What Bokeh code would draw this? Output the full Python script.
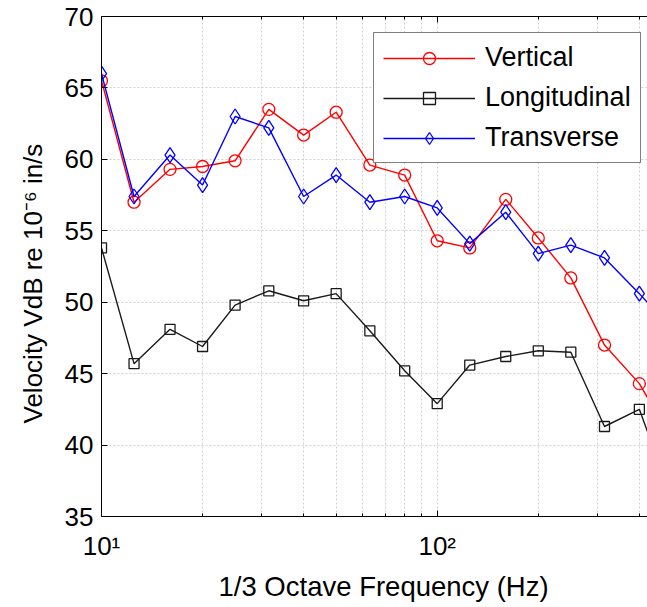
from bokeh.plotting import figure
from bokeh.models import (FixedTicker, CustomJSTickFormatter, LogAxis, Legend,
                          LegendItem, Range1d, Title)
from bokeh.embed import file_html
from bokeh.resources import INLINE

# 1/3 octave band centre frequencies (Hz)
freqs = [10, 12.5, 16, 20, 25, 31.5, 40, 50, 63, 80, 100, 125, 160, 200, 250, 315, 400, 500]
# Velocity levels, VdB re 1e-6 in/s
vertical = [65.5, 57.0, 59.3, 59.5, 59.9, 63.5, 61.7, 63.3, 59.6, 58.9, 54.3, 53.8,
            57.2, 54.5, 51.7, 47.0, 44.3, 40.4]
longitudinal = [53.8, 45.7, 48.1, 46.9, 49.8, 50.8, 50.1, 50.6, 48.0, 45.2, 42.9, 45.6,
                46.2, 46.6, 46.5, 41.3, 42.5, 36.3]
transverse = [66.0, 57.4, 60.3, 58.2, 63.0, 62.2, 57.4, 58.9, 57.0, 57.4, 56.6, 54.1,
              56.3, 53.4, 54.0, 53.1, 50.6, 48.1]

series_names = ["Vertical", "Longitudinal", "Transverse"]
x_major = [10, 100, 1000]
x_minor = [20, 30, 40, 50, 60, 70, 80, 90, 200, 300, 400, 500, 600, 700, 800, 900]
y_ticks = [35, 40, 45, 50, 55, 60, 65, 70]
x_title = "1/3 Octave Frequency (Hz)"
y_title = "Velocity VdB re 10\u207b\u2076 in/s"

FONT = "Liberation Sans"
FS = "26px"

p = figure(width=647, height=607, x_axis_type="log",
           x_range=Range1d(10, 423), y_range=Range1d(35, 70),
           output_backend="svg", toolbar_location=None,
           min_border_left=101, min_border_right=0, min_border_top=16,
           min_border_bottom=91)
p.outline_line_color = None
p.background_fill_color = "white"
p.border_fill_color = "white"

xticker = FixedTicker(ticks=x_major, minor_ticks=x_minor)
sup = CustomJSTickFormatter(code="""
const e = Math.round(Math.log10(tick));
const s = {'0':'\u2070','1':'\u00b9','2':'\u00b2','3':'\u00b3','4':'\u2074'};
return '10' + (s[String(e)] || '');
""")

xa = p.xaxis[0]
xa.ticker = xticker
xa.formatter = sup
ya = p.yaxis[0]
ya.ticker = FixedTicker(ticks=y_ticks)

for ax in (xa, ya):
    ax.axis_line_color = "black"
    ax.axis_line_width = 1
    ax.major_tick_in = 6
    ax.major_tick_out = 0
    ax.minor_tick_in = 3
    ax.minor_tick_out = 0
    ax.major_tick_line_color = "black"
    ax.minor_tick_line_color = "black"
    ax.major_label_text_font = FONT
    ax.major_label_text_font_size = FS
    ax.major_label_text_color = "black"
ya.minor_tick_line_color = None
ya.major_label_standoff = 8
xa.major_label_standoff = 14

# axis titles as side-panel titles, anchored from the frame's start
p.add_layout(Title(text=y_title, align="left", offset=93, standoff=28,
                   text_font=FONT, text_font_size="26px",
                   text_font_style="normal", text_color="black"), "left")
p.add_layout(Title(text=x_title, align="left", offset=117, standoff=11,
                   text_font=FONT, text_font_size="27.5px",
                   text_font_style="normal", text_color="black"), "below")

top = LogAxis(ticker=xticker,
              formatter=CustomJSTickFormatter(code="return '';"),
              major_tick_in=6, major_tick_out=0, minor_tick_in=3, minor_tick_out=0,
              major_label_text_font_size="0px", major_label_standoff=0,
              axis_line_color="black")
p.add_layout(top, "above")

p.xgrid.ticker = xticker
p.xgrid.grid_line_color = "#cfcfcf"
p.xgrid.grid_line_dash = "2 2"
p.xgrid.minor_grid_line_color = "#cfcfcf"
p.xgrid.minor_grid_line_dash = "2 2"
p.ygrid.ticker = FixedTicker(ticks=y_ticks)
p.ygrid.grid_line_color = "#cfcfcf"
p.ygrid.grid_line_dash = "2 2"

colors = ["#ff0000", "#1a1a1a", "#0000ff"]
markers = ["circle", "square", "diamond"]
sizes = [12, 10, 15]
items = []
for name, vals, c, m, s in zip(series_names, [vertical, longitudinal, transverse],
                               colors, markers, sizes):
    ln = p.line(freqs, vals, line_color=c, line_width=1.4)
    sc = p.scatter(freqs, vals, marker=m, size=s, line_color=c, line_width=1.3,
                   fill_color=None)
    items.append(LegendItem(label=name, renderers=[ln, sc]))

leg = Legend(items=items, location=(272, 353), margin=0, padding=9,
             glyph_width=92, glyph_height=30, label_height=30, spacing=9,
             label_standoff=10, label_text_font=FONT, label_text_font_size="27px",
             label_text_color="black", border_line_color="black",
             border_line_width=1, background_fill_color="white",
             background_fill_alpha=1.0)
p.add_layout(leg, "center")

open("out.html", "w").write(file_html(p, INLINE))
